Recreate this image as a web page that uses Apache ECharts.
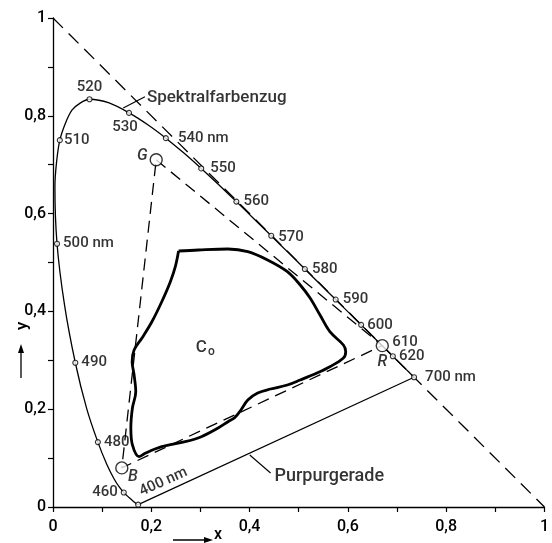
<!DOCTYPE html>
<html><head><meta charset="utf-8">
<script src="https://cdn.jsdelivr.net/npm/echarts@6/dist/echarts.min.js"></script>
<style>html,body{margin:0;padding:0;background:#fff}#c{width:552px;height:543px}</style>
</head><body><div id="c"></div>
<script>
// Spectral locus (wavelength in nm, chromaticity x, y)
const wavelengths = [400,410,420,430,440,450,455,460,465,470,475,480,485,490,495,500,505,510,515,520,525,530,535,540,545,550,555,560,565,570,575,580,585,590,595,600,605,610,620,630,640,650,700];
const locusX = [0.1733,0.1726,0.1714,0.1689,0.1644,0.1566,0.1510,0.1440,0.1355,0.1241,0.1096,0.0913,0.0687,0.0454,0.0235,0.0082,0.0039,0.0139,0.0389,0.0743,0.1142,0.1547,0.1929,0.2296,0.2658,0.3016,0.3373,0.3731,0.4087,0.4441,0.4788,0.5125,0.5448,0.5752,0.6029,0.6270,0.6482,0.6658,0.6915,0.7079,0.7190,0.7260,0.7347];
const locusY = [0.0048,0.0048,0.0051,0.0069,0.0109,0.0177,0.0227,0.0297,0.0399,0.0578,0.0868,0.1327,0.2007,0.2950,0.4127,0.5384,0.6548,0.7502,0.8120,0.8338,0.8262,0.8059,0.7816,0.7543,0.7243,0.6923,0.6589,0.6245,0.5896,0.5547,0.5202,0.4866,0.4544,0.4242,0.3965,0.3725,0.3514,0.3340,0.3083,0.2920,0.2809,0.2740,0.2653];

// Marked wavelengths and their labels
const markedWavelengths = [400,460,480,490,500,510,520,530,540,550,560,570,580,590,600,610,620,700];
const markedLabels = ['400 nm','460','480','490','500 nm','510','520','530','540 nm','550','560','570','580','590','600','610','620','700 nm'];

// Primaries (G, R, B)
const primaryNames = ['G','R','B'];
const primaryX = [0.21,0.67,0.14];
const primaryY = [0.71,0.33,0.08];

// Gamut of surface colours (closed outline)
const gamutX = [0.2555,0.2958,0.3561,0.3964,0.4366,0.4769,0.5030,0.5231,0.5433,0.5634,0.5909,0.5956,0.5909,0.5634,0.5372,0.5030,0.4769,0.4427,0.4165,0.3964,0.3823,0.3696,0.3561,0.3360,0.3018,0.2690,0.2213,0.1885,0.1750,0.1616,0.1584,0.1616,0.1684,0.1650,0.1610,0.1650,0.1811,0.2012,0.2213,0.2388,0.2489,0.2555];
const gamutY = [0.5235,0.5256,0.5276,0.5221,0.5051,0.4812,0.4540,0.4274,0.3926,0.3585,0.3313,0.3176,0.3047,0.2869,0.2740,0.2597,0.2495,0.2413,0.2331,0.2188,0.1984,0.1826,0.1744,0.1616,0.1438,0.1335,0.1233,0.1104,0.1029,0.1268,0.1616,0.2025,0.2358,0.2699,0.2971,0.3211,0.3456,0.3789,0.4198,0.4607,0.4914,0.5235];

// Annotation texts
const locusName = 'Spektralfarbenzug';
const locusNameAnchor = [0.1911, 0.8371];
const locusLeader = [[0.1871, 0.8391],[0.1429, 0.8160]];
const purpleName = 'Purpurgerade';
const purpleNameAnchor = [0.4507, 0.0624];
const purpleLeader = [[0.4004, 0.1063],[0.4427, 0.0695]];
const gamutName = 'C{s|o}';
const gamutNameAnchor = [0.3099, 0.3252];
const whiteLine = [[0,1],[1,0]];

// Axis ticks
const tickMin = 0, tickMax = 1, tickStep = 0.1;

const FONT = 'Roboto';
const FW = 500;
const INK = '#000';

const labelStyle = {
  400: {position:'inside', align:'left', verticalAlign:'bottom', rotate:24, offset:[7,-3]},
  460: {position:'left', distance:3},
  480: {position:'right', distance:3},
  490: {position:'right', distance:3},
  500: {position:'right', distance:3},
  510: {position:'right', distance:1},
  520: {position:'top', distance:1},
  530: {position:'bottom', distance:4, offset:[-4,0]},
  540: {position:'right', distance:9},
  550: {position:'right', distance:6},
  560: {position:'right', distance:4},
  570: {position:'right', distance:4, offset:[0,1]},
  580: {position:'right', distance:4},
  590: {position:'right', distance:4},
  600: {position:'right', distance:3},
  610: {position:'right', distance:12, offset:[0,-1]},
  620: {position:'right', distance:3},
  700: {position:'right', distance:8}
};
const primaryLabelStyle = {
  G: {position:'left', distance:2, offset:[0,-4]},
  R: {position:'bottom', distance:2, offset:[0,0]},
  B: {position:'inside', offset:[11,9]}
};

const locusData = wavelengths.map((w,i)=>[locusX[i], locusY[i]]);
const idx = w => wavelengths.indexOf(w);
const markerData = markedWavelengths.map((w,i)=>{
  const k = idx(w);
  const item = {value:[locusX[k], locusY[k]], label:Object.assign({show:true, formatter:markedLabels[i]}, labelStyle[w])};
  if (w === 610) item.symbolSize = 0;
  return item;
});
const purpleData = [idx(400), idx(700)].map(k=>[locusX[k], locusY[k]]);
const primaryData = primaryNames.map((n,i)=>({value:[primaryX[i],primaryY[i]], label:Object.assign({show:true, formatter:n}, primaryLabelStyle[n])}));
const triangleData = [0,1,2,0].map(i=>[primaryX[i], primaryY[i]]);
const gamutData = gamutX.map((x,i)=>[x, gamutY[i]]);

function tickFmt(v){
  const k = Math.round(v*10);
  if (k % 2) return '';
  if (k === 0) return '0';
  if (k === 10) return '1';
  return (k/10).toFixed(1).replace('.', ',');
}

const axisCommon = {
  type:'value', min:tickMin, max:tickMax, interval:tickStep,
  splitLine:{show:false},
  axisLine:{show:true, onZero:false, lineStyle:{color:INK, width:1.3}},
  axisTick:{show:true, inside:false, length:5, lineStyle:{color:INK, width:1.2}},
  axisLabel:{formatter:tickFmt, color:INK, fontFamily:FONT, fontWeight:FW, fontSize:16}
};

const chart = echarts.init(document.getElementById('c'));
chart.setOption({
  backgroundColor:'#fff',
  animation:false,
  textStyle:{fontFamily:FONT, color:INK, fontWeight:FW},
  grid:{left:53, right:2, top:18, bottom:36, containLabel:false},
  xAxis:Object.assign({}, axisCommon, {axisLabel:Object.assign({}, axisCommon.axisLabel, {margin:12})}),
  yAxis:Object.assign({}, axisCommon, {axisLabel:Object.assign({}, axisCommon.axisLabel, {margin:7})}),
  series:[
    {type:'line', data:whiteLine, symbol:'none', lineStyle:{color:INK, width:1.3, type:[14,8]}, z:2},
    {type:'line', data:locusData, symbol:'none', smooth:0.25, lineStyle:{color:INK, width:1.3}, z:3},
    {type:'line', data:purpleData, symbol:'none', lineStyle:{color:INK, width:1.2}, z:3},
    {type:'line', data:triangleData, symbol:'none', lineStyle:{color:INK, width:1.3, type:[12,7]}, z:2},
    {type:'line', data:gamutData, symbol:'none', smooth:0.35, lineStyle:{color:INK, width:2.8}, z:4},
    {type:'line', data:locusLeader, symbol:'none', lineStyle:{color:INK, width:1.1}, z:3},
    {type:'line', data:purpleLeader, symbol:'none', lineStyle:{color:INK, width:1.1}, z:3},
    {type:'scatter', data:markerData, symbol:'circle', symbolSize:5,
      itemStyle:{color:'#fff', borderColor:INK, borderWidth:1.1},
      label:{color:INK, fontFamily:FONT, fontWeight:FW, fontSize:15}, z:5},
    {type:'scatter', data:primaryData, symbol:'circle', symbolSize:12,
      itemStyle:{color:'#fff', borderColor:INK, borderWidth:1.4},
      label:{color:INK, fontFamily:FONT, fontWeight:FW, fontSize:16, fontStyle:'italic'}, z:6},
    {type:'scatter', symbol:'circle', symbolSize:0, itemStyle:{color:'#fff', borderWidth:0}, data:[
      {value:locusNameAnchor, label:{show:true, formatter:locusName, position:'right', distance:0}},
      {value:purpleNameAnchor, label:{show:true, formatter:purpleName, position:'right', distance:0, fontSize:18}},
      {value:gamutNameAnchor, label:{show:true, formatter:gamutName, position:'inside', fontSize:17, rich:{s:{fontSize:12, color:INK, fontFamily:FONT, fontWeight:FW, padding:[9,0,0,1]}}}}
    ], label:{color:INK, fontFamily:FONT, fontWeight:FW, fontSize:17}, z:6}
  ],
  graphic:[
    {type:'line', shape:{x1:173, y1:540, x2:208, y2:540}, style:{stroke:INK, lineWidth:1.3}},
    {type:'polygon', shape:{points:[[213,540],[204,537],[204,543]]}, style:{fill:INK}},
    {type:'text', left:214, top:527, style:{text:'x', font:'500 16px Roboto', fill:INK}},
    {type:'text', x:14, y:330, rotation:Math.PI/2, style:{text:'y', font:'500 17px Roboto', fill:INK}},
    {type:'line', shape:{x1:21, y1:378, x2:21, y2:350}, style:{stroke:INK, lineWidth:1.3}},
    {type:'polygon', shape:{points:[[21,344],[18,353],[24,353]]}, style:{fill:INK}}
  ]
});
</script>
</body></html>
